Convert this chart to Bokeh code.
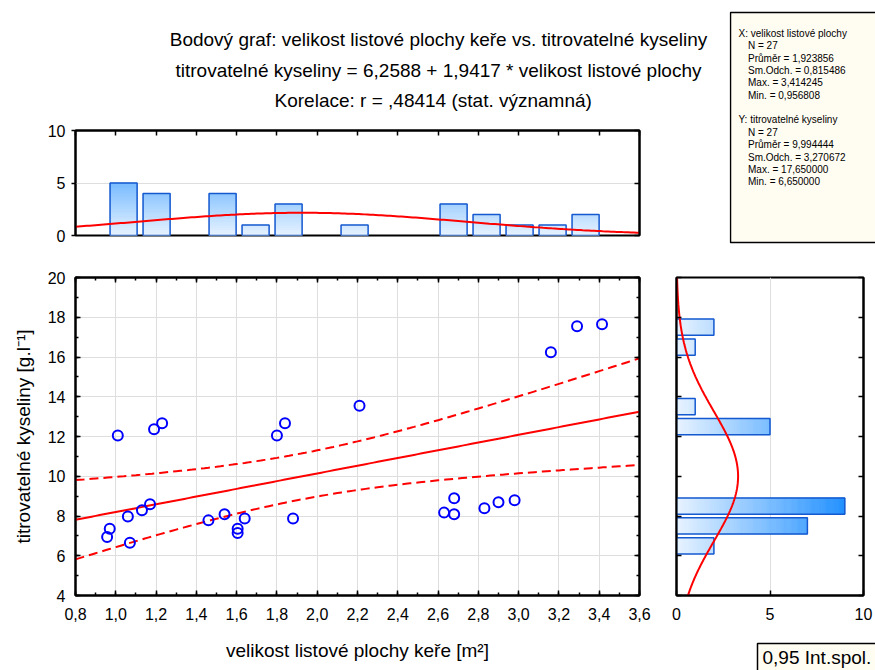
import numpy as np
from bokeh.plotting import figure
from bokeh.layouts import column, row
from bokeh.models import (Range1d, LinearAxis, SingleIntervalTicker, FixedTicker,
                          CustomJSTickFormatter)
from bokeh.core.properties import value
from bokeh.embed import file_html
from bokeh.resources import INLINE

# ---- data: leaf area of the shrub [m2] vs. titratable acids [g/l] ----
leaf_area = [0.957, 0.970, 1.010, 1.060, 1.070, 1.130, 1.170, 1.190, 1.230,
             1.460, 1.540, 1.605, 1.605, 1.640, 1.800, 1.840, 1.880, 2.210,
             2.630, 2.680, 2.680, 2.830, 2.900, 2.980, 3.160, 3.290, 3.414]
acids = [6.94, 7.36, 12.05, 7.98, 6.65, 8.29, 8.59, 12.37, 12.67,
         7.78, 8.09, 7.36, 7.15, 7.88, 12.05, 12.67, 7.88, 13.55,
         8.17, 8.89, 8.09, 8.39, 8.69, 8.79, 16.24, 17.55, 17.65]

# descriptive statistics and the fitted model
N = 27
X_MEAN, X_SD, X_MAX, X_MIN = 1.923856, 0.815486, 3.414245, 0.956808
Y_MEAN, Y_SD, Y_MAX, Y_MIN = 9.994444, 3.270672, 17.650000, 6.650000
INTERCEPT, SLOPE, R = 6.2588, 1.9417, 0.48414
T_975 = 2.0595          # Student t, 0.975 quantile, 25 d.f.
X_BINS = 15             # equal-width bins between min and max of X
y_bin_edges = [6, 7, 8, 9, 10, 11, 12, 13, 14, 15, 16, 17, 18]

title_lines = [
    "Bodový graf: velikost listové plochy keře vs. titrovatelné kyseliny",
    "titrovatelné kyseliny = 6,2588 + 1,9417 * velikost listové plochy",
    "Korelace:   r = ,48414 (stat. významná)",
]
stats_lines = [
    ("X: velikost listové plochy", 0),
    ("N = 27", 1),
    ("Průměr = 1,923856", 1),
    ("Sm.Odch. = 0,815486", 1),
    ("Max. = 3,414245", 1),
    ("Min. = 0,956808", 1),
    ("", 0),
    ("Y: titrovatelné kyseliny", 0),
    ("N = 27", 1),
    ("Průměr = 9,994444", 1),
    ("Sm.Odch. = 3,270672", 1),
    ("Max. = 17,650000", 1),
    ("Min. = 6,650000", 1),
]
x_title = "velikost listové plochy keře [m²]"
y_title = "titrovatelné kyseliny [g.l⁻¹]"
legend_text = "0,95 Int.spol."

FONT = "Liberation Sans"
RED = "#FF0000"
BAR_LINE = "#1559D0"
CREAM = "#FFFCF2"
GRID = "#DEDEDE"

comma = CustomJSTickFormatter(code="return tick.toFixed(1).replace('.', ',');")
comma0 = CustomJSTickFormatter(code="return tick.toFixed(0);")


def grad(v):
    """Bar fill colour for a count value v (light at 0, saturated toward 10)."""
    light = np.array([232, 243, 255])
    dark = np.array([8, 132, 255])
    c = light + (dark - light) * min(v, 10) / 10.0
    return "#%02x%02x%02x" % tuple(int(round(t)) for t in c)


def style_axis(ax, labels=True, major_in=5, minor_in=3):
    ax.axis_line_color = "black"
    ax.axis_line_width = 2
    ax.major_tick_in = major_in
    ax.major_tick_out = 0
    ax.minor_tick_in = minor_in
    ax.minor_tick_out = 0
    ax.major_tick_line_color = "black"
    ax.major_tick_line_width = 1.5
    ax.minor_tick_line_color = "black"
    ax.minor_tick_line_width = 1.5
    ax.major_label_text_font = FONT
    if labels:
        ax.major_label_text_color = "black"
        ax.major_label_text_font_size = "16px"
    else:
        # tick marks only on this edge
        ax.major_label_text_color = None
        ax.major_label_text_font_size = "1px"
        ax.major_label_standoff = 0
    ax.axis_label_text_font = FONT
    ax.axis_label_text_font_style = "normal"
    ax.axis_label_text_font_size = "19px"
    ax.axis_label_text_color = "black"


def base(**kw):
    p = figure(output_backend="svg", toolbar_location=None, **kw)
    p.background_fill_color = "white"
    p.border_fill_color = "white"
    return p


def canvas(w, h):
    """Axis-less panel whose data units equal pixels (y grows downward)."""
    p = base(width=w, height=h, x_range=Range1d(0, w), y_range=Range1d(h, 0),
             x_axis_location=None, y_axis_location=None, min_border=0)
    p.outline_line_color = None
    if "frame_align" in p.properties():
        p.frame_align = False   # keep the frame on the whole canvas
    for g in p.grid:
        g.visible = False
    return p


# ---- header with the three title lines ----
head = canvas(729, 120)
head.text(x=[438, 438, 438], y=[39, 69.5, 100], text=title_lines,
          text_font=value(FONT), text_font_size="19px", text_color="black",
          text_align="center", text_baseline="middle")

# ---- statistics box ----
stats = canvas(146, 245)
stats.quad(left=[1], right=[200], top=[12], bottom=[242],
           fill_color=CREAM, line_color="black", line_width=1.5)
sy = [33 + i * 12.35 for i in range(len(stats_lines))]
sx = [9 + 9.5 * ind for _, ind in stats_lines]
stats.text(x=sx, y=sy, text=[t for t, _ in stats_lines],
           text_font=value(FONT), text_font_size="10px", text_color="black",
           text_align="left", text_baseline="middle")

# ---- main scatter plot ----
main = base(width=665, height=425, x_range=Range1d(0.8, 3.6), y_range=Range1d(4, 20),
            min_border_left=75, min_border_right=26, min_border_top=32, min_border_bottom=75)
main.outline_line_color = "black"
main.outline_line_width = 2
xt = SingleIntervalTicker(interval=0.2, num_minor_ticks=2)
yt = SingleIntervalTicker(interval=2, num_minor_ticks=2)
main.xaxis.ticker = xt
main.yaxis.ticker = yt
main.xaxis.formatter = comma
main.yaxis.formatter = comma0
for ax in main.xaxis + main.yaxis:
    style_axis(ax)
main.xaxis.major_label_standoff = 12
main.xaxis.axis_label_standoff = 17
main.yaxis.major_label_standoff = 10
main.yaxis.axis_label_standoff = 11
main.xaxis.axis_label = x_title
main.yaxis.axis_label = y_title
for loc, tk in (("above", xt), ("right", yt)):
    ax = LinearAxis(ticker=tk)
    style_axis(ax, labels=False)
    main.add_layout(ax, loc)
main.xgrid.grid_line_color = GRID
main.ygrid.grid_line_color = GRID
main.xgrid.grid_line_width = 1
main.ygrid.grid_line_width = 1

xs = np.linspace(0.8, 3.6, 141)
fit = INTERCEPT + SLOPE * xs
s_res = Y_SD * np.sqrt((1 - R ** 2) * (N - 1) / (N - 2))
sxx = (N - 1) * X_SD ** 2
half = T_975 * s_res * np.sqrt(1.0 / N + (xs - X_MEAN) ** 2 / sxx)
main.line(xs, fit - half, line_color=RED, line_width=2, line_dash="9 5")
main.line(xs, fit + half, line_color=RED, line_width=2, line_dash="9 5")
main.line(xs, fit, line_color=RED, line_width=2)
main.scatter(leaf_area, acids, marker="circle", size=10, fill_color=None,
             line_color="#0000FF", line_width=2)

# ---- top histogram of X ----
top = base(width=729, height=125, x_range=main.x_range, y_range=Range1d(0, 10),
           x_axis_location="above",
           min_border_left=75, min_border_right=90, min_border_top=10, min_border_bottom=10)
top.outline_line_color = "black"
top.outline_line_width = 2
top.xaxis.ticker = SingleIntervalTicker(interval=0.2, num_minor_ticks=0)
style_axis(top.xaxis[0], labels=False)
top.yaxis.ticker = FixedTicker(ticks=[0, 5, 10])
top.yaxis.formatter = comma0
style_axis(top.yaxis[0])
top.yaxis.major_tick_in = 0
top.yaxis.major_tick_out = 4
top.yaxis.major_label_standoff = 6
rax = LinearAxis(ticker=FixedTicker(ticks=[0, 5, 10]))
style_axis(rax, labels=False)
top.add_layout(rax, "right")
top.xgrid.grid_line_color = None
top.ygrid.grid_line_color = GRID
top.ygrid.ticker = FixedTicker(ticks=[5])

counts_x, edges_x = np.histogram(leaf_area, bins=X_BINS, range=(X_MIN, X_MAX))
bw_x = edges_x[1] - edges_x[0]
cx = (edges_x[:-1] + edges_x[1:]) / 2
hw_x = 0.41 * bw_x
STEP = 0.05
gl, gr, gb, gt, gc = [], [], [], [], []
for c, n in zip(cx, counts_x):
    for k in range(int(round(n / STEP))):
        gl.append(c - hw_x); gr.append(c + hw_x)
        gb.append(k * STEP); gt.append((k + 1) * STEP)
        gc.append(grad((k + 0.5) * STEP))
top.quad(left=gl, right=gr, bottom=gb, top=gt, fill_color=gc, line_color=gc, line_width=0.6)
nz = counts_x > 0
top.quad(left=(cx - hw_x)[nz], right=(cx + hw_x)[nz], bottom=0, top=counts_x[nz],
         fill_color=None, line_color=BAR_LINE, line_width=1.5)
xc = np.linspace(0.8, 3.6, 200)
top.line(xc, N * bw_x * np.exp(-0.5 * ((xc - X_MEAN) / X_SD) ** 2) / (X_SD * np.sqrt(2 * np.pi)),
         line_color=RED, line_width=2)

# ---- side histogram of Y ----
side = base(width=210, height=395, x_range=Range1d(0, 10), y_range=main.y_range,
            min_border_left=11, min_border_right=12, min_border_top=32, min_border_bottom=45)
side.outline_line_color = "black"
side.outline_line_width = 2
side.xaxis.ticker = FixedTicker(ticks=[0, 5, 10])
side.xaxis.formatter = comma0
style_axis(side.xaxis[0])
side.xaxis.major_label_standoff = 12
side.yaxis.ticker = SingleIntervalTicker(interval=2, num_minor_ticks=0)
style_axis(side.yaxis[0], labels=False)
ray = LinearAxis(ticker=SingleIntervalTicker(interval=2, num_minor_ticks=0))
style_axis(ray, labels=False)
side.add_layout(ray, "right")
side.ygrid.grid_line_color = None
side.xgrid.grid_line_color = GRID
side.xgrid.ticker = FixedTicker(ticks=[5])

counts_y, edges_y = np.histogram(acids, bins=y_bin_edges)
cy = (edges_y[:-1] + edges_y[1:]) / 2
hw_y = 0.41 * (edges_y[1] - edges_y[0])
hl, hr, hb, ht, hc = [], [], [], [], []
for c, n in zip(cy, counts_y):
    for k in range(int(round(n / STEP))):
        hl.append(k * STEP); hr.append((k + 1) * STEP)
        hb.append(c - hw_y); ht.append(c + hw_y)
        hc.append(grad((k + 0.5) * STEP))
side.quad(left=hl, right=hr, bottom=hb, top=ht, fill_color=hc, line_color=hc, line_width=0.6)
nzy = counts_y > 0
side.quad(left=0, right=counts_y[nzy], bottom=(cy - hw_y)[nzy], top=(cy + hw_y)[nzy],
          fill_color=None, line_color=BAR_LINE, line_width=1.5)
yc = np.linspace(4, 20, 200)
side.line(N * 1.0 * np.exp(-0.5 * ((yc - Y_MEAN) / Y_SD) ** 2) / (Y_SD * np.sqrt(2 * np.pi)), yc,
          line_color=RED, line_width=2)

# ---- legend box for the confidence band ----
leg = canvas(210, 30)
leg.quad(left=[92], right=[260], top=[3], bottom=[40],
         fill_color=CREAM, line_color="black", line_width=1.5)
leg.text(x=[97], y=[17], text=[legend_text], text_font=value(FONT), text_font_size="19px",
         text_color="black", text_align="left", text_baseline="middle")

layout = column(row(column(row(head), top), stats), row(main, column(side, row(leg))))
open("out.html", "w").write(file_html(layout, INLINE))
